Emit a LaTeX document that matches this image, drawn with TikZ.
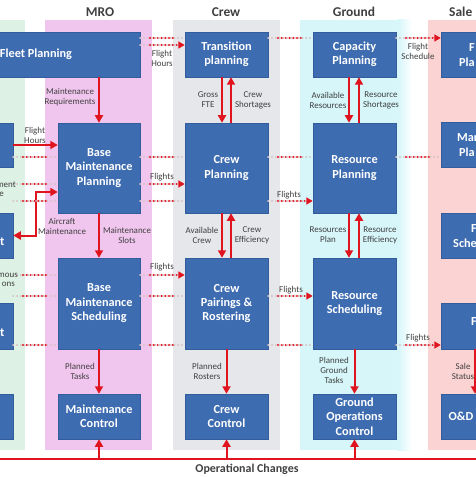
\documentclass[tikz,border=0pt]{standalone}
\usepackage{fontspec}
\setmainfont{Carlito}
\usetikzlibrary{arrows.meta,calc}
\definecolor{boxblue}{HTML}{3E6CB1}
\definecolor{boxedge}{HTML}{335C9C}
\definecolor{arrred}{HTML}{E0141E}
\definecolor{txtgray}{HTML}{404040}
\definecolor{lanemro}{HTML}{F1C6EE}
\definecolor{lanecrew}{HTML}{E6E7EB}
\definecolor{laneground}{HTML}{D6F6FA}
\definecolor{lanesales}{HTML}{FBD3D3}
\definecolor{laneleft}{HTML}{DDF1E5}
\definecolor{dotgray}{HTML}{D6C2C6}
\tikzset{
  blk/.style={fill=boxblue, draw=boxedge, line width=0.5bp, text=white,
    font=\bfseries\fontsize{12.3}{14.5}\selectfont, align=center, inner sep=0pt},
  frag/.style={text=white, font=\bfseries\fontsize{12.3}{14.5}\selectfont, inner sep=0pt},
  lbl/.style={text=txtgray, font=\fontsize{9}{10}\selectfont, align=center, inner sep=0pt},
  ttl/.style={text=txtgray, font=\bfseries\fontsize{13.5}{15}\selectfont, inner sep=0pt},
  flow/.style={draw=arrred, line width=2bp, -{Triangle[length=7.5bp,width=8bp]}},
  biflow/.style={draw=arrred, line width=2bp, {Triangle[length=7.5bp,width=8bp]}-{Triangle[length=7.5bp,width=8bp]}},
  opline/.style={draw=arrred, line width=2bp},
  dotg/.style={draw=dotgray, line width=2.2bp, line cap=round, dash pattern=on 0bp off 3.8bp},
  dotr/.style={draw=arrred, line width=2.2bp, line cap=round, dash pattern=on 0bp off 3.8bp},
  dotarr/.style={dotr, -{Triangle[length=6.5bp,width=7bp]}},
}
% #1 left node, #2 right node, #3 y, #4 end fraction, #5 style
\newcommand{\drow}[5]{%
  \draw[dotg] (#1.east |- 0,#3) -- (#2.west |- 0,#3);
  \draw[#5] ($(#1.east |- 0,#3)!0.22!(#2.west |- 0,#3)$) -- ($(#1.east |- 0,#3)!#4!(#2.west |- 0,#3)$);
}
\begin{document}
\begin{tikzpicture}[x=1bp,y=-1bp]
\useasboundingbox (0,0) rectangle (476,477);
\clip (0,0) rectangle (476,477);
\fill[white] (0,0) rectangle (476,477);
% lanes
\fill[laneleft] (-10,20) rectangle (25,450);
\fill[lanemro] (45,20) rectangle (152,450);
\fill[lanecrew] (173,20) rectangle (280,450);
\fill[laneground] (300,20) rectangle (398,450);
\shade[left color=laneground, right color=white] (398,20) rectangle (412,450);
\fill[lanesales] (428,20) rectangle (490,450);
% titles
\node[ttl] (tmro) at (100,12) {MRO};
\node[ttl] (tcrew) at (226,12) {Crew};
\node[ttl] (tground) at (354,12) {Ground};
\node[ttl, anchor=west] (tsales) at (449,12) {Sale};
% boxes
\node[blk, minimum width=208bp, minimum height=45bp] (fleet) at (36,54.5) {Fleet Planning};
\node[blk, minimum width=82bp, minimum height=90bp] (bmp) at (99,168) {Base\\Maintenance\\Planning};
\node[blk, minimum width=82bp, minimum height=91bp] (bms) at (99,303.5) {Base\\Maintenance\\Scheduling};
\node[blk, minimum width=82bp, minimum height=45bp] (mc) at (99,416.5) {Maintenance\\Control};
\node[blk, minimum width=83bp, minimum height=45bp] (tp) at (226.5,54.5) {Transition\\planning};
\node[blk, minimum width=83bp, minimum height=90bp] (cp) at (226.5,168) {Crew\\Planning};
\node[blk, minimum width=83bp, minimum height=91bp] (cpr) at (226.5,303.5) {Crew\\Pairings \&\\Rostering};
\node[blk, minimum width=83bp, minimum height=45bp] (cc) at (226.5,416.5) {Crew\\Control};
\node[blk, minimum width=83bp, minimum height=45bp] (cap) at (354.5,54.5) {Capacity\\Planning};
\node[blk, minimum width=83bp, minimum height=90bp] (rp) at (354.5,168) {Resource\\Planning};
\node[blk, minimum width=83bp, minimum height=91bp] (rs) at (354.5,303.5) {Resource\\Scheduling};
\node[blk, minimum width=83bp, minimum height=45bp] (goc) at (354.5,416.5) {Ground\\Operations\\Control};
% left column (cut off)
\node[blk, minimum width=83bp, minimum height=44bp] (lb1) at (-28.5,145) {};
\node[blk, minimum width=83bp, minimum height=45bp] (lb2) at (-28.5,235.5) {};
\node[blk, minimum width=83bp, minimum height=46bp] (lb3) at (-28.5,326) {};
\node[blk, minimum width=83bp, minimum height=45bp] (lb4) at (-28.5,416.5) {};
\node[frag, anchor=east] (lb2t) at (4.5,242) {t};
\node[frag, anchor=east] (lb3t) at (4.5,333) {t};
% sales column (cut off)
\node[blk, minimum width=83bp, minimum height=45bp] (sb1) at (482.5,54.5) {};
\node[blk, minimum width=83bp, minimum height=45bp] (sb2) at (482.5,144.5) {};
\node[blk, minimum width=83bp, minimum height=45bp] (sb3) at (482.5,235.5) {};
\node[blk, minimum width=83bp, minimum height=46bp] (sb4) at (482.5,326) {};
\node[blk, minimum width=83bp, minimum height=45bp] (od) at (482.5,416.5) {};
\node[frag] (odt) at (461,416.5) {O\&D};
\node[frag, anchor=west] (sb1a) at (469,47.5) {F};
\node[frag, anchor=west] (sb1b) at (459,62.5) {Pla};
\node[frag, anchor=west] (sb2a) at (457,138) {Mar};
\node[frag, anchor=west] (sb2b) at (459,152.5) {Pla};
\node[frag, anchor=west] (sb3a) at (471,228.5) {F};
\node[frag, anchor=west] (sb3b) at (453,243) {Sche};
\node[frag, anchor=west] (sb4a) at (471,322) {F};
% solid flows
\draw[flow] (fleet.south -| bmp.north) -- (bmp.north);
\draw[flow] (lb1.east) -- (lb1.east -| bmp.west);
\coordinate (elb) at (36,192);
\draw[biflow] (lb2.east) -| (elb) -- (elb -| bmp.west);
\draw[flow] (bmp.south) -- (bms.north);
\draw[flow] (bms.south) -- (mc.north);
\draw[flow] (tp.south -| 222,0) -- (cp.north -| 222,0);
\draw[flow] (cp.north -| 231,0) -- (tp.south -| 231,0);
\draw[flow] (cp.south -| 222,0) -- (cpr.north -| 222,0);
\draw[flow] (cpr.north -| 231,0) -- (cp.south -| 231,0);
\draw[flow] (cpr.south) -- (cc.north);
\draw[flow] (cap.south -| 349,0) -- (rp.north -| 349,0);
\draw[flow] (rp.north -| 359,0) -- (cap.south -| 359,0);
\draw[flow] (rp.south -| 349,0) -- (rs.north -| 349,0);
\draw[flow] (rs.north -| 359,0) -- (rp.south -| 359,0);
\draw[flow] (rs.south) -- (goc.north);
\draw[flow] (sb4.south -| 475,0) -- (od.north -| 475,0);
% operational changes
\coordinate (opl) at (0,459);
\coordinate (opr) at (476,459);
\draw[opline] (opl) -- (opr);
\draw[flow] (mc.south |- opl) -- (mc.south);
\draw[flow] (cc.south |- opl) -- (cc.south);
\draw[flow] (goc.south |- opl) -- (goc.south);
\node[ttl, font=\bfseries\fontsize{12}{14}\selectfont] (opc) at (247,469) {Operational Changes};
% dotted flows
\drow{lb1}{bmp}{157}{0.78}{dotr}
\drow{lb1}{bmp}{184}{0.78}{dotr}
\drow{lb1}{bmp}{201}{0.78}{dotr}
\drow{lb2}{bms}{275}{0.78}{dotr}
\drow{lb2}{bms}{296}{0.78}{dotr}
\drow{lb3}{bms}{345}{0.78}{dotr}
\drow{fleet}{tp}{38}{0.78}{dotr}
\drow{fleet}{tp}{45}{1}{dotarr}
\drow{bmp}{cp}{157}{0.78}{dotr}
\drow{bmp}{cp}{184}{1}{dotarr}
\drow{bmp}{cp}{201}{0.78}{dotr}
\drow{bms}{cpr}{275}{1}{dotarr}
\drow{bms}{cpr}{296}{0.78}{dotr}
\drow{bms}{cpr}{345}{0.78}{dotr}
\drow{tp}{cap}{38}{0.78}{dotr}
\drow{cp}{rp}{157}{0.78}{dotr}
\drow{cp}{rp}{201}{1}{dotarr}
\drow{cpr}{rs}{296}{1}{dotarr}
\drow{cpr}{rs}{345}{0.78}{dotr}
\drow{cap}{sb1}{38}{1}{dotarr}
\drow{rp}{sb2}{157}{0.78}{dotr}
\drow{rs}{sb4}{345}{1}{dotarr}
% labels
\node[lbl] (l1) at (70,97) {Maintenance\\Requirements};
\node[lbl] (l2) at (35,135) {Flight\\Hours};
\node[lbl] (l3) at (62,226) {Aircraft\\Maintenance};
\node[lbl] (l4) at (127,235) {Maintenance\\Slots};
\node[lbl] (l5) at (80,371) {Planned\\Tasks};
\node[lbl] (l6) at (208,100) {Gross\\FTE};
\node[lbl] (l7) at (253,100) {Crew\\Shortages};
\node[lbl] (l8) at (202,235) {Available\\Crew};
\node[lbl] (l9) at (252,235) {Crew\\Efficiency};
\node[lbl] (l10) at (207,371) {Planned\\Rosters};
\node[lbl] (l11) at (328,100) {Available\\Resources};
\node[lbl] (l12) at (381,100) {Resource\\Shortages};
\node[lbl] (l13) at (328,235) {Resources\\Plan};
\node[lbl] (l14) at (380,235) {Resource\\Efficiency};
\node[lbl] (l15) at (334,370) {Planned\\Ground\\Tasks};
\node[lbl] (l16) at (463,371) {Sale\\Status};
\node[lbl] (l17) at (162,58) {Flight\\Hours};
\node[lbl] (l18) at (162,177) {Flights};
\node[lbl] (l19) at (162,267) {Flights};
\node[lbl] (l20) at (289,195) {Flights};
\node[lbl] (l21) at (291,290) {Flights};
\node[lbl] (l22) at (418,51) {Flight\\Schedule};
\node[lbl] (l23) at (418,338) {Flights};
\node[lbl, anchor=east] (l24) at (16,185) {ement};
\node[lbl, anchor=east] (l25) at (4,194) {e};
\node[lbl, anchor=east] (l26) at (18,275) {mous};
\node[lbl, anchor=east] (l27) at (15,284) {ons};
\end{tikzpicture}
\end{document}
